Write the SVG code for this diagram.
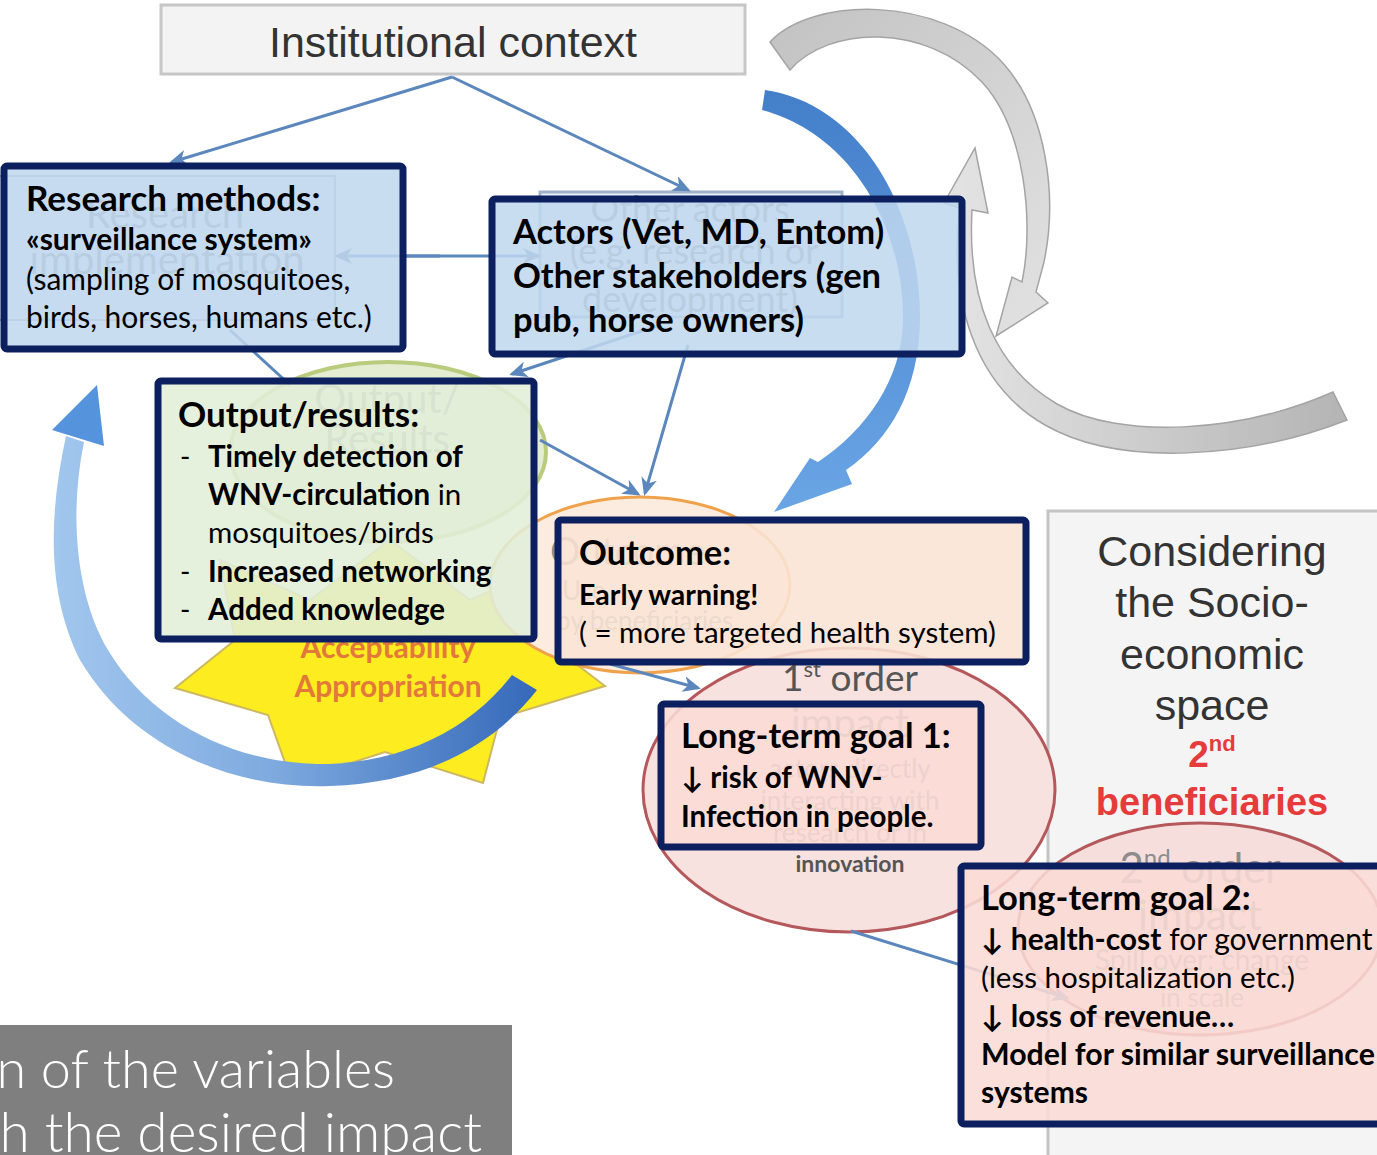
<svg xmlns="http://www.w3.org/2000/svg" width="1377" height="1155" viewBox="0 0 1377 1155">
<defs>
<style>
.t{font-family:Lato,"Liberation Sans",sans-serif;fill:#000}
.b{font-weight:700}
.fa{font-family:Lato,"Liberation Sans",sans-serif;fill:#8c8c8c;text-anchor:middle}
.ar{font-family:"Liberation Sans",Arial,sans-serif;fill:#333;text-anchor:middle}
.ov{stroke:#0c1f5e;stroke-width:7}
.conn{stroke:#5b87bd;stroke-width:3;fill:none}
.ma{marker-end:url(#ah)}
</style>
<marker id="ah" markerWidth="18" markerHeight="16" refX="15" refY="8" orient="auto" markerUnits="userSpaceOnUse">
<path d="M0,0 L18,8 L0,16 L5,8 Z" fill="#5b87bd"/>
</marker>
<linearGradient id="gl" x1="0" y1="0" x2="1" y2="0">
<stop offset="0" stop-color="#a2c7ee"/>
<stop offset="0.45" stop-color="#7eaadf"/>
<stop offset="1" stop-color="#3569b9"/>
</linearGradient>
<linearGradient id="gr" x1="0" y1="0" x2="0" y2="1">
<stop offset="0" stop-color="#3a78c7"/>
<stop offset="1" stop-color="#62a0e4"/>
</linearGradient>
<linearGradient id="gg" x1="0" y1="0" x2="1" y2="1">
<stop offset="0" stop-color="#c2c2c2"/>
<stop offset="1" stop-color="#e2e2e2"/>
</linearGradient>
<linearGradient id="gg2" x1="0" y1="0" x2="1" y2="0">
<stop offset="0" stop-color="#e4e4e4"/>
<stop offset="1" stop-color="#b4b4b4"/>
</linearGradient>
</defs>
<rect width="1377" height="1155" fill="#fff"/>

<g id="background">
<g id="institutional-context">
<rect x="161" y="5" width="584" height="69" fill="#f3f3f3" stroke="#c6c6c6" stroke-width="3"/>
<text class="ar" x="453" y="57" font-size="43">Institutional context</text>
</g>
<g id="socio-economic-space">
<rect x="1048" y="511" width="345" height="650" fill="#f4f4f4" stroke="#c4c4c4" stroke-width="3"/>
<text class="ar" x="1212" y="566" font-size="43">Considering</text>
<text class="ar" x="1212" y="617" font-size="43">the Socio-</text>
<text class="ar" x="1212" y="669" font-size="43">economic</text>
<text class="ar" x="1212" y="720" font-size="43">space</text>
<text class="ar" x="1212" y="767" font-size="37" font-weight="700" style="fill:#e63b3b">2<tspan font-size="22" dy="-16">nd</tspan></text>
<text class="ar" x="1212" y="815" font-size="38" font-weight="700" style="fill:#e63b3b">beneficiaries</text>
</g>
<g id="gray-cycle">
<path d="M770,42 C812,-3 938,-6 1002,62 C1046,110 1058,195 1044,262 L1036,292 L1048,303 L996,336 L1012,277 L1022,282 C1034,225 1026,130 982,82 C925,22 828,26 790,70 Z" fill="url(#gg)" stroke="#a4a4a4" stroke-width="1.5"/>
<path d="M960,208 C948,300 975,385 1045,425 C1120,468 1250,458 1347,420 L1333,392 C1240,433 1120,440 1057,404 C995,368 967,300 972,210 L988,213 L975,148 L944,203 Z" fill="url(#gg2)" stroke="#a4a4a4" stroke-width="1.5"/>
</g>
<g id="research-implementation">
<rect x="-10" y="176" width="345" height="144" fill="#e6eef7" stroke="#9fb2c8" stroke-width="2"/>
<text class="fa" x="165" y="228" font-size="40">Research</text>
<text class="fa" x="167" y="274" font-size="40">implementation</text>
</g>
<g id="other-actors">
<rect x="540" y="192" width="302" height="125" fill="#e6eef7" stroke="#9fb2c8" stroke-width="3"/>
<text class="fa" x="690" y="222" font-size="36">Other actors</text>
<text class="fa" x="694" y="264" font-size="36">(e.g. research or</text>
<text class="fa" x="690" y="312" font-size="36">development)</text>
</g>
<g id="acceptability-star">
<polygon points="175,688 268,715 292,782 385,752 483,783 500,718 605,686 545,640 560,560 470,600 390,540 310,600 220,560 235,640" fill="#fdec1f" stroke="#cdb862" stroke-width="2"/>
<text x="388" y="658" font-family="Lato,'Liberation Sans',sans-serif" font-weight="700" font-size="30" fill="#e2793a" text-anchor="middle">Acceptability</text>
<text x="388" y="697" font-family="Lato,'Liberation Sans',sans-serif" font-weight="700" font-size="30" fill="#e2793a" text-anchor="middle">Appropriation</text>
</g>
<g id="output-ellipse">
<ellipse cx="388" cy="452" rx="158" ry="90" fill="#e4edd2" stroke="#b9cc7e" stroke-width="4"/>
<text class="fa" x="387" y="413" font-size="40">Output/</text>
<text class="fa" x="387" y="453" font-size="40">Results</text>
</g>
<g id="outcome-ellipse">
<ellipse cx="640" cy="585" rx="150" ry="88" fill="#fcece0" stroke="#efa24c" stroke-width="3"/>
<text class="fa" x="550" y="565" font-size="38" style="text-anchor:start">Outcome</text>
<text class="fa" x="562" y="600" font-size="26" style="text-anchor:start">Use</text>
<text class="fa" x="556" y="630" font-size="26" style="text-anchor:start">by beneficiaries</text>
</g>
<g id="first-order-impact">
<ellipse cx="849" cy="790" rx="206" ry="142" fill="#f8e2e0" stroke="#b4585c" stroke-width="3"/>
<text class="fa" x="850" y="691" font-size="37" style="fill:#555">1<tspan font-size="22" dy="-14">st</tspan><tspan dy="14"> order</tspan></text>
<text class="fa" x="850" y="737" font-size="40">impact</text>
<text class="fa" x="850" y="778" font-size="26">actors directly</text>
<text class="fa" x="850" y="810" font-size="26">interacting with</text>
<text class="fa" x="850" y="842" font-size="26">research or in</text>
<text class="fa" x="850" y="872" font-size="23" font-weight="700" style="fill:#555">innovation</text>
</g>
<g id="second-order-impact">
<ellipse cx="1200" cy="929" rx="182" ry="106" fill="#f6dedc" stroke="#b4585c" stroke-width="3"/>
<text class="fa" x="1200" y="883" font-size="42">2<tspan font-size="24" dy="-17">nd</tspan><tspan dy="17"> order</tspan></text>
<text class="fa" x="1200" y="930" font-size="42">impact</text>
<text class="fa" x="1202" y="970" font-size="28">Spill over: change</text>
<text class="fa" x="1202" y="1007" font-size="26">in scale</text>
</g>
</g>

<g id="connectors">
<line class="conn ma" x1="452" y1="77" x2="172" y2="162"/>
<line class="conn ma" x1="452" y1="77" x2="688" y2="190"/>
<line class="conn ma" x1="400" y1="256" x2="538" y2="256"/>
<line class="conn ma" x1="440" y1="256" x2="337" y2="256"/>
<line class="conn" x1="230" y1="330" x2="290" y2="385"/>
<line class="conn ma" x1="660" y1="325" x2="512" y2="374"/>
<line class="conn ma" x1="688" y1="345" x2="645" y2="493"/>
<line class="conn ma" x1="540" y1="440" x2="638" y2="494"/>
<line class="conn ma" x1="610" y1="664" x2="698" y2="688"/>
<line class="conn ma" x1="851" y1="931" x2="1067" y2="998"/>
</g>

<g id="cycle-arrows">
<path d="M765,90 C862,104 921,212 920,320 C919,390 890,440 846,470 L852,484 L774,512 L810,458 L818,462 C866,430 902,380 903,320 C904,228 852,134 762,110 Z" fill="url(#gr)" opacity="0.95"/>
<path d="M512,675 C470,730 400,765 317,764 C230,762 150,720 108,650 C78,600 68,520 84,442 L66,436 C50,510 45,590 80,660 C130,745 230,790 330,786 C420,783 490,750 537,690 Z" fill="url(#gl)"/>
<polygon points="97,385 52,430 104,446" fill="#5593dc"/>
</g>

<g id="research-methods">
<rect class="ov" x="4" y="166" width="399" height="183" rx="3" fill="#c0d7ef" fill-opacity="0.86"/>
<text class="t b" x="26" y="211" font-size="35">Research methods:</text>
<text class="t b" x="26" y="250" font-size="30">«surveillance system»</text>
<text class="t" x="26" y="290" font-size="30">(sampling of mosquitoes,</text>
<text class="t" x="26" y="328" font-size="30">birds, horses, humans etc.)</text>
</g>
<g id="actors">
<rect class="ov" x="492" y="199" width="470" height="155" rx="3" fill="#c0d7ef" fill-opacity="0.86"/>
<text class="t b" x="513" y="244" font-size="34.5">Actors (Vet, MD, Entom)</text>
<text class="t b" x="513" y="288" font-size="34.5">Other stakeholders (gen</text>
<text class="t b" x="513" y="332" font-size="34.5">pub, horse owners)</text>
</g>
<g id="output-results">
<rect class="ov" x="158" y="381" width="376" height="258" rx="3" fill="#e1eed8" fill-opacity="0.88"/>
<text class="t b" x="178" y="427" font-size="35">Output/results:</text>
<text class="t" x="180" y="467" font-size="28">-</text>
<text class="t b" x="208" y="467" font-size="29.5">Timely detection of</text>
<text class="t" x="208" y="505" font-size="29.5"><tspan font-weight="700">WNV-circulation</tspan> in</text>
<text class="t" x="208" y="543" font-size="29.5">mosquitoes/birds</text>
<text class="t" x="180" y="582" font-size="28">-</text>
<text class="t b" x="208" y="582" font-size="29.5">Increased networking</text>
<text class="t" x="180" y="620" font-size="28">-</text>
<text class="t b" x="208" y="620" font-size="29.5">Added knowledge</text>
</g>
<g id="outcome">
<rect class="ov" x="558" y="520" width="468" height="142" rx="3" fill="#fbe4d5" fill-opacity="0.88"/>
<text class="t b" x="579" y="565" font-size="34.5">Outcome:</text>
<text class="t b" x="579" y="605" font-size="28.5">Early warning!</text>
<text class="t" x="579" y="643" font-size="29.5">( = more targeted health system)</text>
</g>
<g id="long-term-goal-1">
<rect class="ov" x="661" y="704" width="320" height="143" rx="3" fill="#fadbd5" fill-opacity="0.88"/>
<text class="t b" x="681" y="748" font-size="34.5">Long-term goal 1:</text>
<text class="t b" x="681" y="788" font-size="29.5">↓ risk of WNV-</text>
<text class="t b" x="681" y="827" font-size="29.5">Infection in people.</text>
</g>
<g id="long-term-goal-2">
<rect class="ov" x="961" y="866" width="430" height="258" rx="3" fill="#fadbd5" fill-opacity="0.88"/>
<text class="t b" x="981" y="910" font-size="34.5">Long-term goal 2:</text>
<text class="t" x="981" y="950" font-size="30"><tspan font-weight="700">↓ health-cost</tspan> for government</text>
<text class="t" x="981" y="988" font-size="29.5">(less hospitalization etc.)</text>
<text class="t b" x="981" y="1027" font-size="30">↓ loss of revenue…</text>
<text class="t b" x="981" y="1065" font-size="30.3">Model for similar surveillance</text>
<text class="t b" x="981" y="1103" font-size="30">systems</text>
</g>
<g id="caption">
<rect x="0" y="1025" width="512" height="135" fill="#7f7f7f"/>
<text x="395" y="1088" font-family="Lato,'Liberation Sans',sans-serif" font-weight="300" font-size="54" fill="#fff" text-anchor="end">n of the variables</text>
<text x="482" y="1152" font-family="Lato,'Liberation Sans',sans-serif" font-weight="300" font-size="55" fill="#fff" text-anchor="end">h the desired impact</text>
</g>
</svg>
